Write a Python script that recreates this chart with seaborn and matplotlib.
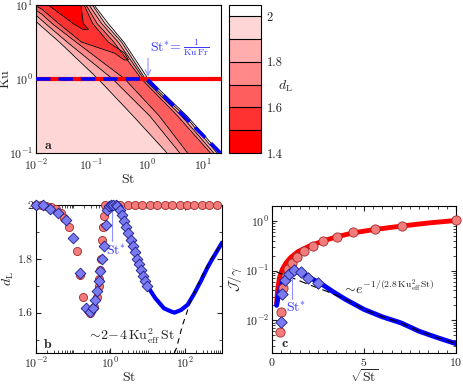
import numpy as np
import matplotlib
matplotlib.use("Agg")
import matplotlib.pyplot as plt
import seaborn as sns
from matplotlib.colors import ListedColormap, BoundaryNorm
from matplotlib.ticker import FixedLocator, LogLocator, MultipleLocator, NullFormatter

# ---------------- panel a: d_L map, read row by row (log10 St positions) ----------------
ku_rows = [10.0, 5.62, 3.16, 1.0, 0.316, 0.1]
log_st_ku10 = [-2.0, -1.998, -1.996, -1.994, -1.99, -1.78, -1.55, -1.35, -1.19, -1.135, -1.10, -1.045, -0.985, -0.955, -0.93, 1.35]
dl_ku10 = [1.58, 1.575, 1.57, 1.565, 1.56, 1.50, 1.42, 1.42, 1.50, 1.60, 1.70, 1.80, 1.90, 2.00, 2.03, 2.03]
log_st_ku5 = [-2.0, -1.96, -1.83, -1.71, -1.59, -1.33, -1.27, -1.21, -1.15, -0.98, -0.90, -0.82, -0.76, -0.70, -0.66, 1.35]
dl_ku5 = [1.93, 1.90, 1.80, 1.70, 1.60, 1.50, 1.47, 1.47, 1.50, 1.60, 1.70, 1.80, 1.90, 2.00, 2.03, 2.03]
log_st_ku3 = [-2.0, -1.58, -1.44, -1.28, -1.18, -1.10, -1.02, -0.88, -0.80, -0.70, -0.60, -0.52, -0.46, -0.42, -0.39, 1.35]
dl_ku3 = [1.97, 1.90, 1.80, 1.70, 1.60, 1.57, 1.55, 1.55, 1.57, 1.60, 1.70, 1.80, 1.90, 2.00, 2.03, 2.03]
log_st_ku1 = [-2.0, -0.88, -0.62, -0.40, -0.35, -0.30, -0.25, -0.18, -0.15, -0.13, -0.10, -0.06, -0.03, 0.02, 0.05, 1.35]
dl_ku1 = [1.97, 1.90, 1.80, 1.70, 1.65, 1.64, 1.63, 1.63, 1.64, 1.65, 1.70, 1.80, 1.90, 2.00, 2.03, 2.03]
log_st_ku03 = [-2.0, -0.25, 0.05, 0.22, 0.28, 0.33, 0.40, 0.48, 0.51, 0.53, 0.55, 0.62, 0.68, 0.72, 0.75, 1.35]
dl_ku03 = [1.97, 1.90, 1.80, 1.70, 1.66, 1.65, 1.64, 1.64, 1.65, 1.66, 1.70, 1.80, 1.90, 2.00, 2.03, 2.03]
log_st_ku01 = [-2.0, 0.36, 0.59, 0.73, 0.80, 0.85, 0.90, 1.00, 1.05, 1.10, 1.14, 1.20, 1.26, 1.31, 1.33, 1.35]
dl_ku01 = [1.97, 1.90, 1.80, 1.70, 1.67, 1.66, 1.65, 1.65, 1.66, 1.67, 1.70, 1.80, 1.90, 2.00, 2.01, 2.02]

dl_levels = [1.4, 1.5, 1.6, 1.7, 1.8, 1.9, 2.0, 2.05]
cbar_ticks = [1.4, 1.6, 1.8, 2.0]
cbar_labels = ["1.4", "1.6", "1.8", "2"]
ku_line = 1.0
st_star_path = [0.01, 1.0, 21.0]
ku_star_path = [1.0, 1.0, 0.1]

# ---------------- panel b: d_L vs St ----------------
log_st_red_b = [-2.0, -1.87, -1.74, -1.60, -1.47, -1.33, -1.24, -1.11, -0.90, -0.83, -0.74,
                -0.59, -0.54, -0.43, -0.36, -0.32, -0.30, -0.27, -0.25, -0.23, -0.21, -0.18,
                -0.14, 0.06, 0.26, 0.46, 0.66, 0.86, 1.06, 1.26, 1.46, 1.66, 1.86, 2.06,
                2.26, 2.46, 2.66, 2.86]
dl_red_b = [2.0, 2.0, 1.998, 1.994, 1.984, 1.969, 1.95, 1.92, 1.83, 1.74, 1.66,
            1.61, 1.60, 1.62, 1.66, 1.70, 1.725, 1.76, 1.80, 1.87, 1.92, 1.96,
            2.0, 2.0, 2.0, 2.0, 2.0, 2.0, 2.0, 2.0, 2.0, 2.0, 2.0, 2.0,
            2.0, 2.0, 2.0, 2.0]
log_st_blue_b = [-2.0, -1.82, -1.62, -1.40, -1.20, -1.01, -0.81, -0.65, -0.56, -0.47,
                 -0.41, -0.36, -0.32, -0.27, -0.22, -0.18, -0.12, -0.09, -0.05, 0.02,
                 0.08, 0.14, 0.18, 0.25, 0.31, 0.36, 0.42, 0.48, 0.54, 0.60,
                 0.66, 0.72, 0.78, 0.83, 0.88, 0.94, 0.99]
dl_blue_b = [2.0, 2.0, 1.987, 1.972, 1.943, 1.878, 1.748, 1.616, 1.604, 1.616,
             1.648, 1.679, 1.717, 1.755, 1.80, 1.849, 1.927, 1.98, 1.995, 2.0,
             2.0, 2.0, 1.995, 1.98, 1.962, 1.94, 1.918, 1.896, 1.87, 1.848,
             1.825, 1.80, 1.78, 1.757, 1.736, 1.717, 1.70]
log_st_line_b = [0.99, 1.2, 1.44, 1.62, 1.72, 1.9, 2.08, 2.25, 2.43, 2.6, 2.7, 2.85, 3.0]
dl_line_b = [1.70, 1.655, 1.616, 1.605, 1.60, 1.61, 1.63, 1.67, 1.717, 1.765, 1.79, 1.825, 1.86]
log_st_fit_b = [1.72, 1.78, 1.93, 2.15, 2.4, 2.7, 3.0]
dl_fit_b = [1.45, 1.47, 1.55, 1.64, 1.72, 1.80, 1.86]

# ---------------- panel c: J/gamma vs sqrt(St) ----------------
x_red_line_c = [0.25, 0.3, 0.4, 0.55, 0.75, 1.0, 1.4, 2.0, 2.8, 3.5, 4.4, 5.6, 7.1, 8.5, 10.0]
log_j_red_line_c = [-1.66, -1.40, -1.15, -0.98, -0.85, -0.74, -0.62, -0.51, -0.40, -0.32, -0.24, -0.17, -0.10, -0.04, 0.01]
x_red_pts_c = [0.43, 0.47, 0.62, 0.74, 0.89, 1.07, 1.38, 1.74, 2.21, 2.79, 3.52, 4.42, 5.6, 7.08, 10.0]
log_j_red_pts_c = [-2.23, -1.83, -1.34, -1.11, -0.96, -0.85, -0.72, -0.61, -0.51, -0.41, -0.32, -0.23, -0.17, -0.10, 0.01]
x_blue_line_c = [0.25, 0.4, 0.6, 0.8, 1.0, 1.3, 1.7, 2.2, 2.7, 3.3, 4.0, 5.0, 6.0, 7.0, 8.0, 9.0, 10.0]
log_j_blue_line_c = [-1.7, -1.4, -1.2, -1.07, -1.0, -1.0, -1.07, -1.17, -1.27, -1.42, -1.58, -1.78, -1.93, -2.05, -2.22, -2.35, -2.47]
x_blue_pts_c = [0.49, 0.53, 0.71, 0.94, 1.21, 1.56, 1.97, 2.52]
log_j_blue_pts_c = [-2.03, -1.46, -1.19, -1.06, -0.99, -1.03, -1.14, -1.25]
x_fit_c = [0.25, 1.0, 2.0, 3.0, 4.0, 5.0, 6.0, 7.0, 8.0, 9.0, 10.0]
log_j_fit_c = [-1.03, -1.13, -1.28, -1.42, -1.58, -1.78, -1.93, -2.05, -2.22, -2.35, -2.47]

# ---------------- style ----------------
sns.set_style("ticks")
plt.rcParams.update({
    "font.family": "serif",
    "font.serif": ["cmr10", "DejaVu Serif"],
    "mathtext.fontset": "cm",
    "axes.formatter.use_mathtext": True,
    "axes.unicode_minus": False,
    "xtick.direction": "in", "ytick.direction": "in",
    "xtick.top": True, "ytick.right": True,
    "xtick.major.size": 3.5, "ytick.major.size": 3.5,
    "xtick.minor.size": 2, "ytick.minor.size": 2,
    "xtick.major.pad": 2, "ytick.major.pad": 2,
    "xtick.labelsize": 8.5, "ytick.labelsize": 8.5,
    "axes.labelsize": 10,
    "axes.labelpad": 0,
    "axes.linewidth": 0.8,
    "axes.edgecolor": "black",
})

red_face, red_edge = "#f27b7b", "#a02828"
blue_face, blue_edge = "#7b7bf0", "#1a1a8c"
annot_blue, arrow_blue = "#3b3bff", "#9090ff"
band_colors = ["#ff0000", "#ff3232", "#ff5e5e", "#ff8888", "#ffadad", "#ffd6d6", "#ffffff"]

fig = plt.figure(figsize=(4.63, 3.84), dpi=100)
axa = fig.add_axes([0.0778, 0.6016, 0.3996, 0.3854])
cax = fig.add_axes([0.4946, 0.6016, 0.0691, 0.3854])
axb = fig.add_axes([0.0778, 0.0807, 0.4017, 0.3854])
axc = fig.add_axes([0.5875, 0.0807, 0.3974, 0.3828])

# ---- a ----
st_grid = 10 ** np.array([log_st_ku10, log_st_ku5, log_st_ku3, log_st_ku1, log_st_ku03, log_st_ku01])
ku_grid = np.array(ku_rows)[:, None] * np.ones_like(st_grid)
dl_grid = np.array([dl_ku10, dl_ku5, dl_ku3, dl_ku1, dl_ku03, dl_ku01])
cmap = ListedColormap(band_colors)
norm = BoundaryNorm(dl_levels, cmap.N)
cf = axa.contourf(st_grid, ku_grid, dl_grid, levels=dl_levels, cmap=cmap, norm=norm)
axa.contour(st_grid, ku_grid, dl_grid, levels=dl_levels[1:-1], colors="black", linewidths=0.6)
axa.set_xscale("log")
axa.set_yscale("log")
axa.axhline(ku_line, color="#ff0000", lw=3, zorder=3)
axa.plot(st_star_path, ku_star_path, color="#0000ff", lw=2.6, dashes=(4, 2.2), zorder=4)
axa.set_xlim(1e-2, 21.5)
axa.set_ylim(0.1, 10)
axa.set_xlabel(r"$\mathrm{St}$")
axa.set_ylabel(r"$\mathrm{Ku}$")
axa.yaxis.set_label_coords(-0.13, 0.5)
axa.text(3.9, 2.7, r"$\mathrm{St}^{*}\! = \frac{1}{\mathrm{Ku\,Fr}}$", color=annot_blue,
         ha="center", va="center", fontsize=10)
axa.annotate("", xy=(1.04, 1.08), xytext=(1.04, 1.9),
             arrowprops=dict(arrowstyle="->", color=arrow_blue, lw=0.8, shrinkA=0, shrinkB=0))
axa.text(0.0165, 0.124, r"$\mathbf{a}$", fontsize=10, ha="center", va="center")

cb = fig.colorbar(cf, cax=cax, spacing="proportional", drawedges=True, ticks=cbar_ticks)
cb.ax.set_yticklabels(cbar_labels)
cb.minorticks_off()
cb.dividers.set_color("black")
cb.dividers.set_linewidth(0.8)
cb.outline.set_linewidth(0.8)
cax.tick_params(which="both", length=0, left=False, right=True, labelsize=9, pad=4)
cax.text(1.75, 0.45, r"$d_\mathrm{L}$", transform=cax.transAxes, ha="center", va="center", fontsize=10)

# ---- b ----
sns.lineplot(x=10 ** np.array(log_st_line_b), y=dl_line_b, ax=axb, color="#0000ff", lw=3, zorder=2)
axb.plot(10 ** np.array(log_st_fit_b), dl_fit_b, color="black", lw=0.8, dashes=(5, 4), zorder=3)
sns.scatterplot(x=10 ** np.array(log_st_red_b), y=dl_red_b, ax=axb, marker="o", s=34,
                color=red_face, edgecolor=red_edge, linewidth=0.6, clip_on=False, zorder=4)
sns.scatterplot(x=10 ** np.array(log_st_blue_b), y=dl_blue_b, ax=axb, marker="D", s=30,
                color=blue_face, edgecolor=blue_edge, linewidth=0.6, clip_on=False, zorder=5)
axb.set_xscale("log")
axb.set_xlim(1e-2, 1e3)
axb.set_ylim(1.45, 2.0)
axb.xaxis.set_major_locator(FixedLocator([1e-2, 1e0, 1e2]))
axb.xaxis.set_minor_locator(LogLocator(base=10, subs=np.arange(1, 10), numticks=30))
axb.xaxis.set_minor_formatter(NullFormatter())
axb.set_yticks([1.6, 1.8, 2.0], ["1.6", "1.8", "2"])
axb.yaxis.set_minor_locator(MultipleLocator(0.1))
axb.set_xlabel(r"$\mathrm{St}$")
axb.set_ylabel(r"$d_\mathrm{L}$")
axb.yaxis.set_label_coords(-0.11, 0.5)
axb.plot([1.13, 1.13], [1.865, 1.98], color=arrow_blue, lw=0.8, zorder=3)
axb.text(1.4, 1.83, r"$\mathrm{St}^{*}$", color=annot_blue, ha="center", va="center", fontsize=10)
axb.text(3.5, 1.51, r"$\sim\!2\!-\!4\,\mathrm{Ku}_{\mathrm{eff}}^2\,\mathrm{St}$",
         ha="center", va="center", fontsize=10, color="#222222")
axb.text(0.02, 1.48, r"$\mathbf{b}$", fontsize=10, ha="center", va="center")

# ---- c ----
sns.lineplot(x=x_red_line_c, y=10 ** np.array(log_j_red_line_c), ax=axc, color="#ff0000", lw=3.5, zorder=2)
sns.lineplot(x=x_blue_line_c, y=10 ** np.array(log_j_blue_line_c), ax=axc, color="#0000ff", lw=3.5, zorder=2)
axc.plot(x_fit_c, 10 ** np.array(log_j_fit_c), color="black", lw=0.8, dashes=(7, 4), zorder=3)
sns.scatterplot(x=x_red_pts_c, y=10 ** np.array(log_j_red_pts_c), ax=axc, marker="o", s=44,
                color=red_face, edgecolor=red_edge, linewidth=0.6, clip_on=False, zorder=4)
sns.scatterplot(x=x_blue_pts_c, y=10 ** np.array(log_j_blue_pts_c), ax=axc, marker="D", s=34,
                color=blue_face, edgecolor=blue_edge, linewidth=0.6, clip_on=False, zorder=5)
axc.set_yscale("log")
axc.set_xlim(0, 10)
axc.set_ylim(2.2e-3, 2.0)
axc.set_xticks([0, 5, 10])
axc.xaxis.set_minor_locator(MultipleLocator(0.5))
axc.yaxis.set_minor_formatter(NullFormatter())
axc.set_xlabel(r"$\sqrt{\mathrm{St}}$")
axc.set_ylabel(r"$\mathcal{J}/\gamma$")
axc.yaxis.set_label_coords(-0.15, 0.5)
axc.plot([1.07, 1.07], [0.0275, 0.074], color=arrow_blue, lw=0.8, zorder=3)
axc.text(1.3, 0.018, r"$\mathrm{St}^{*}$", color=annot_blue, ha="center", va="center", fontsize=10)
axc.text(3.8, 0.046, r"$\sim\! e^{-1/(2.8\,\mathrm{Ku}_{\mathrm{eff}}^2\,\mathrm{St})}$",
         ha="left", va="center", fontsize=10, color="#222222")
axc.text(0.7, 0.0034, r"$\mathbf{c}$", fontsize=10, ha="center", va="center")

for ax in (axa, axb, axc):
    ax.tick_params(which="both", direction="in", top=True, right=True)
axa.tick_params(axis="x", which="major", pad=3.5)

fig.savefig("out.png", dpi=100)
